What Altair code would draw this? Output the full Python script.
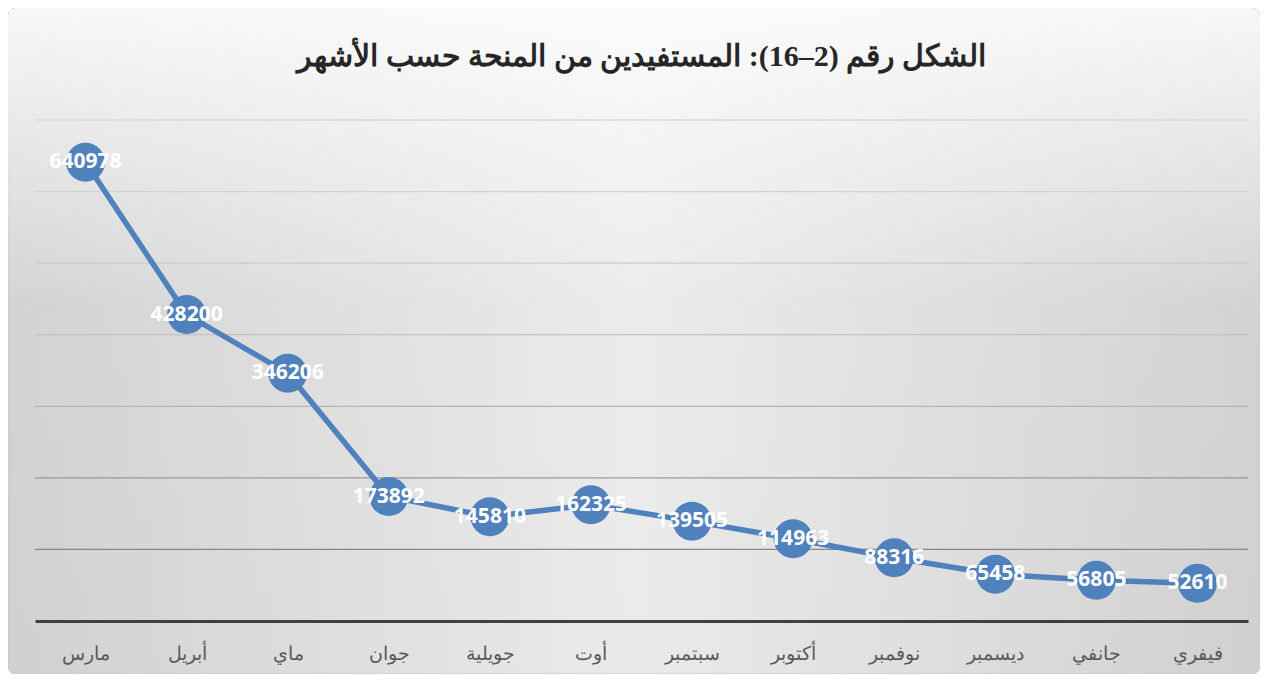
import altair as alt
import pandas as pd

months = ["مارس", "أبريل", "ماي", "جوان", "جويلية", "أوت", "سبتمبر", "أكتوبر", "نوفمبر", "ديسمبر", "جانفي", "فيفري"]
beneficiaries = [640978, 428200, 346206, 173892, 145810, 162325, 139505, 114963, 88316, 65458, 56805, 52610]
grid_values = [100000, 200000, 300000, 400000, 500000, 600000, 700000]
grid_colors = ["#888888", "#9a9a9a", "#b3b3b3", "#c2c2c2", "#cbcbcb", "#d2d2d2", "#d8d8d8"]
title_text = "الشكل رقم (2–16): المستفيدين من المنحة حسب الأشهر"

W, H = 1213, 501
PL, PT, PR, PB = 27, 112, 12, 53

df = pd.DataFrame({"month": months, "value": beneficiaries})
grid_df = pd.DataFrame({"g": grid_values})
one = pd.DataFrame({"a": [0]})

x_enc = alt.X("month:N", sort=months, scale=alt.Scale(type="point", padding=0.5),
              axis=alt.Axis(title=None, ticks=False, domainColor="#404040", domainWidth=3,
                            labelColor="#595959", labelFontSize=19, labelFont="Liberation Serif",
                            labelAngle=0, labelPadding=23, grid=False, zindex=1))
y_scale = alt.Scale(domain=[0, 700000], nice=False, zero=True)

bg1 = alt.Chart(one).mark_rect(
    fill={"gradient": "linear", "x1": 0, "y1": 0, "x2": 1, "y2": 0,
          "stops": [{"offset": 0, "color": "#cbcbcb"}, {"offset": 0.5, "color": "#e8e8e8"},
                    {"offset": 1, "color": "#cbcbcb"}]},
    stroke="#bdbdbd", strokeWidth=1, cornerRadius=8
).encode(x=alt.value(-PL), x2=alt.value(W + PR), y=alt.value(-PT), y2=alt.value(H + PB))

bg2 = alt.Chart(one).mark_rect(
    fill={"gradient": "linear", "x1": 0, "y1": 0, "x2": 0, "y2": 1,
          "stops": [{"offset": 0, "color": "rgba(255,255,255,0.85)"},
                    {"offset": 0.45, "color": "rgba(255,255,255,0.15)"},
                    {"offset": 1, "color": "rgba(255,255,255,0.1)"}]},
    cornerRadius=8
).encode(x=alt.value(-PL), x2=alt.value(W + PR), y=alt.value(-PT), y2=alt.value(H + PB))

grid = alt.Chart(grid_df).mark_rule(strokeWidth=1.3).encode(
    y=alt.Y("g:Q", scale=y_scale, axis=None),
    color=alt.Color("g:O", scale=alt.Scale(domain=grid_values, range=grid_colors), legend=None),
)

base = alt.Chart(df).encode(x=x_enc, y=alt.Y("value:Q", scale=y_scale, axis=None))
line = base.mark_line(color="#4F81BD", strokeWidth=5.5)
points = base.mark_circle(color="#4F81BD", opacity=1, size=1520)
labels = base.mark_text(color="white", fontWeight="bold", fontSize=21, font="Open Sans",
                        baseline="middle", align="center").encode(text=alt.Text("value:Q", format="d"))

title = alt.Chart(one).mark_text(text=title_text, font="Liberation Serif", fontSize=30,
                                 fontWeight="bold", color="#262626", align="center",
                                 baseline="middle").encode(x=alt.value(W / 2), y=alt.value(-63))

chart = alt.layer(bg1, bg2, grid, line, points, labels, title).properties(
    width=W, height=H,
    autosize=alt.AutoSizeParams(type="none"),
    padding={"left": PL, "top": PT, "right": PR, "bottom": PB},
).configure_view(stroke=None).configure(background="white")

chart.save("out.html", embed_options={"renderer": "svg", "actions": False})
